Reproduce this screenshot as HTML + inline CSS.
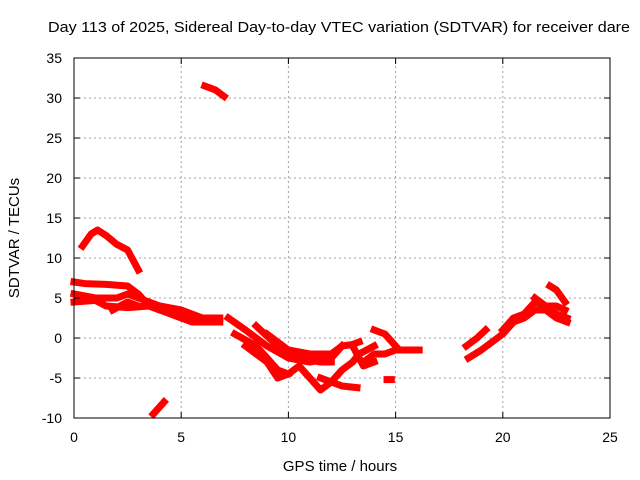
<!DOCTYPE html>
<html><head><meta charset="utf-8"><style>
body{margin:0;background:#fff}
svg{display:block;font-family:"Liberation Sans",sans-serif}
</style></head><body>
<svg id="chart" width="640" height="480" viewBox="0 0 640 480">
<text x="339" y="32" font-size="15" text-anchor="middle" textLength="582" lengthAdjust="spacingAndGlyphs">Day 113 of 2025, Sidereal Day-to-day VTEC variation (SDTVAR) for receiver dare</text>
<text x="340" y="471" font-size="15" text-anchor="middle">GPS time / hours</text>
<text transform="translate(19,238) rotate(-90)" font-size="15" text-anchor="middle">SDTVAR / TECUs</text>
<g id="grid"></g><g id="series"></g><g id="axes"></g>
</svg>
<script>
const xTicks=[0,5,10,15,20,25];
const yTicks=[-10,-5,0,5,10,15,20,25,30,35];
const arcTimes=[
[0.4,0.8,1.1,1.5,2,2.5,3],
[0,0.5,1.5,2.5,3,3.5,4,5,6,6.8],
[0,1,2,2.5,3,4,5,6],
[0,1,1.5,2.5,3.5,4.5,5.5,6.8],
[1.8,2.5,3],
[3.7,4.2],
[6.1,6.6,7],
[7.2,8,9,10,11,12,12.5],
[7.5,8.5,9.5,10,10.5,11,11.5,12,12.5,13,13.3,14],
[8.5,9.5,10.5,11.5,12],
[8,9,9.5,10],
[9,10,11,12,12.5],
[11.5,12.5,13.2],
[12,12.5,13,13.3],
[13.5,14,14.5,15,15.5,16.1],
[14,14.5,15],
[14.6,14.8],
[13,13.5,14],
[18.3,18.8,19.2],
[18.4,19,19.5,20,20.5,21,21.5,22,22.5,23],
[20,20.5,21,21.5,22,22.5,22.9],
[21.5,22,22.5,23],
[22.2,22.5,22.9]
];
const arcValues=[
[11.5,13,13.5,12.8,11.7,11,8.5],
[7,6.8,6.7,6.5,5.5,4,3.5,3,2.5,2.5],
[5.5,5,5,5.5,5,4,3.5,2.5],
[4.5,4.7,4,3.8,4,3,2,2],
[3.5,4.5,4],
[-9.5,-8],
[31.5,31,30.2],
[2.5,1,-1,-2.5,-3,-2.5,-1],
[0.5,-1,-4,-4.5,-3.5,-5,-6.5,-5.5,-4,-3,-2,-1],
[1.5,-1,-2.5,-3,-3],
[-1,-3,-5,-4.5],
[0.5,-1.5,-2,-2,-1],
[-5,-6,-6.2],
[-2,-1,-0.8,-0.5],
[-3,-2,-2,-1.5,-1.5,-1.5],
[1,0.5,-1],
[-5.2,-5.2],
[-1,-3.5,-3],
[-1,0,1],
[-2.5,-1.5,-0.5,0.5,2,2.5,3.5,3.5,2.5,2],
[1,2.5,3,4.5,4,4,3.5],
[5,4,3,2.5],
[6.5,6,4.5]
];
const X0=74,X1=610,Y0=418,Y1=58;
const sx=v=>X0+(v-0)/(25-0)*(X1-X0);
const sy=v=>Y0-(v+10)/(45)*(Y0-Y1);
const NS="http://www.w3.org/2000/svg";
function mk(t,a,p){const e=document.createElementNS(NS,t);for(const k in a)e.setAttribute(k,a[k]);p.appendChild(e);return e;}
const grid=document.getElementById('grid'),axes=document.getElementById('axes'),ser=document.getElementById('series');
xTicks.forEach(t=>{
 if(t>0&&t<25){const g=mk('line',{x1:sx(t),x2:sx(t),y1:Y0,y2:Y1,stroke:'#a0a0a0','stroke-dasharray':'2,3'},grid);
 }
 const tk=mk('line',{x1:sx(t),x2:sx(t),y1:Y0,y2:Y0-6,stroke:'#000'},axes);
 
 mk('line',{x1:sx(t),x2:sx(t),y1:Y1,y2:Y1+6,stroke:'#000'},axes);
 const l=mk('text',{x:sx(t),y:Y0+24,'font-size':14,'text-anchor':'middle'},axes);l.textContent=t;
 
});
yTicks.forEach(t=>{
 if(t>-10&&t<35){const g=mk('line',{x1:X0,x2:X1,y1:sy(t),y2:sy(t),stroke:'#a0a0a0','stroke-dasharray':'2,3'},grid);
 }
 const tk=mk('line',{x1:X0,x2:X0+6,y1:sy(t),y2:sy(t),stroke:'#000'},axes);
 
 mk('line',{x1:X1,x2:X1-6,y1:sy(t),y2:sy(t),stroke:'#000'},axes);
 const l=mk('text',{x:X0-12,y:sy(t)+5,'font-size':14,'text-anchor':'end'},axes);l.textContent=t;
 
});
const fr=mk('rect',{x:X0,y:Y1,width:X1-X0,height:Y0-Y1,fill:'none',stroke:'#000'},axes);

arcTimes.forEach((ts,i)=>{
 const pts=ts.map((t,j)=>sx(t)+','+sy(arcValues[i][j])).join(' ');
 const p=mk('polyline',{points:pts,fill:'none',stroke:'#ff0000','stroke-width':7,'stroke-linejoin':'round','stroke-linecap':'square'},ser);
 
});
</script>
</body></html>
